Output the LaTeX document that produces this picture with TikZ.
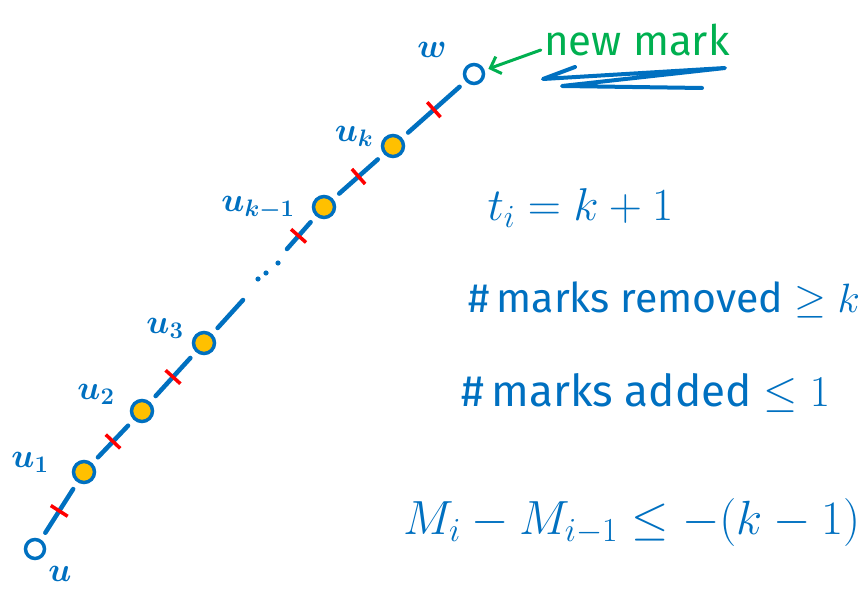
\RequirePackage{fix-cm}
\documentclass[tikz,border=0pt]{standalone}
\usepackage{fontspec}
\setmainfont{Fira Sans}
\usepackage{graphicx}
\usetikzlibrary{arrows.meta}
\definecolor{penBlue}{RGB}{0,112,192}
\definecolor{penGreen}{RGB}{0,176,80}
\definecolor{penRed}{RGB}{255,0,0}
\definecolor{dotYellow}{RGB}{255,192,0}

\tikzset{
  vtx/.style={circle, draw=penBlue, line width=3.5pt, fill=dotYellow, minimum size=21pt, inner sep=0pt},
  vtxopen/.style={vtx, fill=none, minimum size=19pt},
  edge/.style={penBlue, line width=4.5pt, line cap=round, shorten <=8pt, shorten >=8pt},
  tickmark/.style={sloped, draw=penRed, line width=3.5pt, minimum height=20pt, minimum width=0pt, inner sep=0pt},
  lbl/.style={text=penBlue, font=\fontsize{34}{34}\selectfont\boldmath},
  eqn/.style={text=penBlue, font=\fontsize{41}{41}\selectfont, anchor=west},
}

\begin{document}
\begin{tikzpicture}[x=1pt, y=-1pt]
  \useasboundingbox (0,0) rectangle (864,593);

  % the path from u to w
  \node[vtxopen] (u) at (35,549) {};
  \node[vtx] (u1) at (84,472) {};
  \node[vtx] (u2) at (142,411) {};
  \node[vtx] (u3) at (204,343) {};
  \node[vtx] (uk1) at (324,207) {};
  \node[vtx] (uk) at (393,146) {};
  \node[vtxopen] (w) at (474,74) {};
  \coordinate (gapA) at (243,300);
  \coordinate (gapB) at (287,249);

  \node[lbl] (lu) at (60,574) {$u$};
  \node[lbl] (lu1) at (30,462) {$u_1$};
  \node[lbl] (lu2) at (96,394) {$u_2$};
  \node[lbl] (lu3) at (165,328) {$u_3$};
  \node[lbl] (luk1) at (258,208) {$u_{k-1}$};
  \node[lbl] (luk) at (354,136) {$u_k$};
  \node[lbl] (lw) at (432,50) {$w$};

  \draw[edge] (u) -- node[tickmark] {} (u1);
  \draw[edge] (u1) -- node[tickmark] {} (u2);
  \draw[edge] (u2) -- node[tickmark] {} (u3);
  \draw[edge, shorten >=0pt] (u3) -- (gapA);
  \draw[edge, shorten <=0pt] (gapB) -- node[tickmark, pos=0.4] {} (uk1);
  \draw[edge] (uk1) -- node[tickmark] {} (uk);
  \draw[edge] (uk) -- node[tickmark] {} (w);
  % dots
  \fill[penBlue] (258,279) circle (2.6pt);
  \fill[penBlue] (266,273) circle (2.6pt);
  \fill[penBlue] (278,263) circle (2.6pt);

  % new mark
  \node[text=penGreen, font=\fontsize{42}{42}\selectfont] (note) at (637,40) {new mark};
  \draw[penGreen, line width=3pt, line cap=round, shorten >=4pt,
    -{Straight Barb[length=9pt, width=18pt]}] ([yshift=-10pt]note.west) -- (w);
  \draw[penBlue, line width=4pt, line cap=round, line join=round]
    (575,67) -- (543,79) -- (725,68) -- (562,86) -- (702,88);

  % counting
  \node[eqn, font=\fontsize{46}{46}\selectfont] (ti) at (484,208) {$t_i = k+1$};
  \node[eqn] (rem) at (465,300) {\#\,marks removed $\geq k$};
  \node[eqn, font=\fontsize{44}{44}\selectfont] (add) at (458,393) {\#\,marks added $\leq 1$};
  \node[eqn, font=\fontsize{48}{48}\selectfont] (diff) at (400,522) {$M_i - M_{i-1} \leq -(k-1)$};
\end{tikzpicture}
\end{document}
